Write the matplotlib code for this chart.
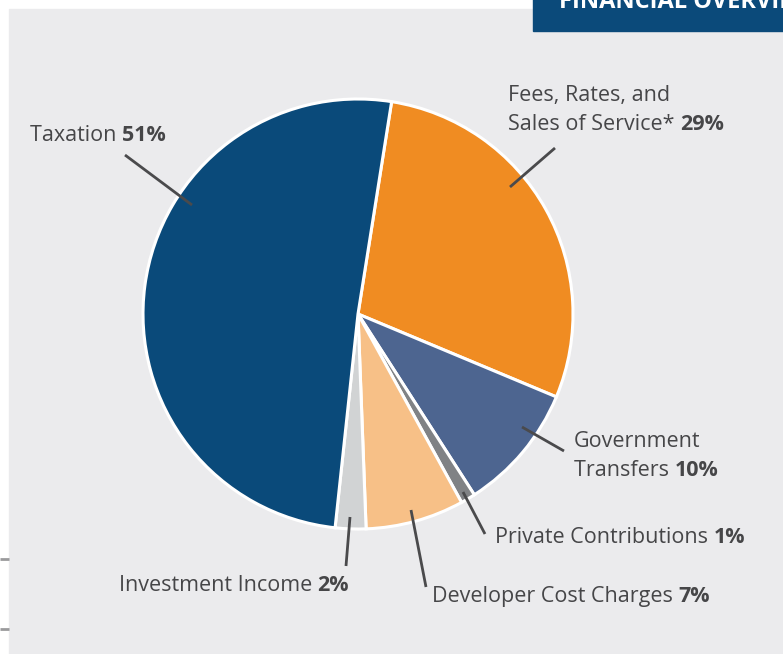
import matplotlib
matplotlib.use('Agg')
import matplotlib.pyplot as plt
from matplotlib.patches import Rectangle

plt.rcParams['font.family'] = ['Open Sans', 'DejaVu Sans']

# data
labels = ['Fees, Rates, and\nSales of Service*', 'Government\nTransfers', 'Private Contributions',
          'Developer Cost Charges', 'Investment Income', 'Taxation']
pcts = ['29%', '10%', '1%', '7%', '2%', '51%']
values = [28.8, 9.6, 1.1, 7.4, 2.3, 50.8]
colors = ['#F08C22', '#4D6590', '#808285', '#F7C087', '#D1D3D4', '#0A4A7A']

W, H = 783, 654
fig = plt.figure(figsize=(W / 100, H / 100), dpi=100)
ax = fig.add_axes([0, 0, 1, 1])

# background panel + header box
ax.add_patch(Rectangle((9, 0), W, H - 9, color='#EBEBED', zorder=0))
ax.add_patch(Rectangle((533, H - 31), 260, 40, color='#0B4A7A', zorder=1))
ax.text(559, H - 8, 'FINANCIAL OVERVIEW', color='white', fontsize=17, fontweight='bold',
        va='baseline', ha='left', zorder=2)
for yy in [559, 629]:
    ax.plot([0, 9], [H - yy, H - yy], color='#9A9A9C', lw=2, solid_capstyle='butt')

cx, cy, r = 358, H - 314, 215
ax.pie(values, colors=colors, startangle=81, counterclock=False, center=(cx, cy), radius=r,
       wedgeprops=dict(edgecolor='white', linewidth=2.2), frame=True)

txt = '#464648'
line_col = '#4A4A4C'
# leader lines (pixel coords, y down)
leaders = [
    [(510, 187), (555, 148)],
    [(522, 427), (564, 451)],
    [(463, 492), (485, 534)],
    [(411, 510), (426, 587)],
    [(350, 517), (346, 566)],
    [(192, 205), (125, 155)],
]
for (x0, y0), (x1, y1) in leaders:
    ax.plot([x0, x1], [H - y0, H - y1], color=line_col, lw=2, solid_capstyle='butt', zorder=5)

# label anchors: (x, y of last line baseline, ha)
anchors = [(508, 130, 'left'), (574, 476, 'left'), (495, 543, 'left'),
           (432, 602, 'left'), (349, 591, 'right'), (30, 141, 'left')]
fs = 15.5
fig.canvas.draw()
renderer = fig.canvas.get_renderer()
for lab, p, (x, y, ha) in zip(labels, pcts, anchors):
    lines = lab.split('\n')
    lh = 29
    for i, ln in enumerate(lines[:-1]):
        ax.text(x, H - (y - lh * (len(lines) - 1 - i)), ln, fontsize=fs, color=txt,
                ha='left', va='baseline')
    last = lines[-1] + ' '
    t1 = ax.text(0, 0, last, fontsize=fs, color=txt, ha='left', va='baseline')
    t2 = ax.text(0, 0, p, fontsize=fs, color=txt, ha='left', va='baseline', fontweight='bold')
    w1 = t1.get_window_extent(renderer).width
    w2 = t2.get_window_extent(renderer).width
    x0 = x if ha == 'left' else x - w1 - w2
    t1.set_position((x0, H - y))
    t2.set_position((x0 + w1, H - y))

ax.set_xlim(0, W)
ax.set_ylim(0, H)
ax.set_aspect('auto')
ax.axis('off')
fig.patch.set_facecolor('white')
fig.savefig('out.png', dpi=100)
